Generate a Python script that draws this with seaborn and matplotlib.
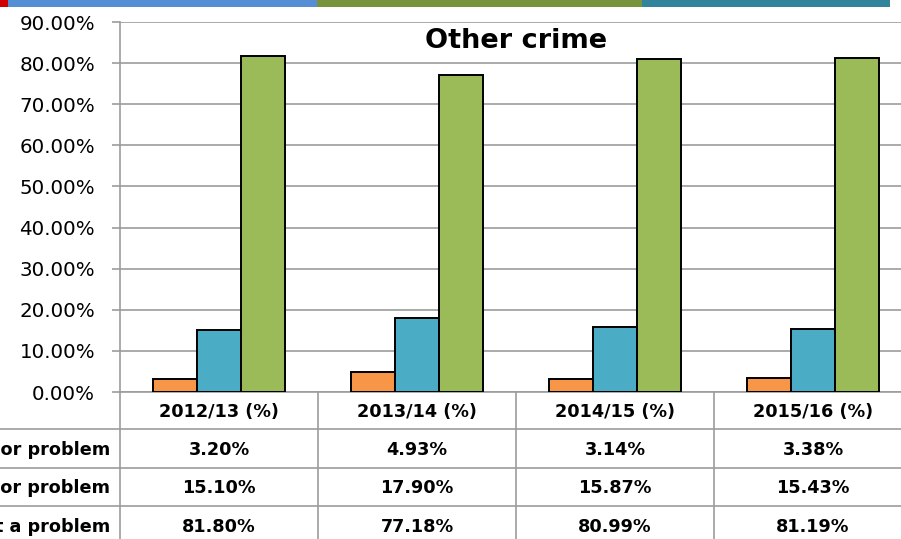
import numpy as np
import pandas as pd
import matplotlib
matplotlib.use("Agg")
import matplotlib.pyplot as plt
import matplotlib.transforms as mtransforms
from matplotlib.lines import Line2D
from matplotlib.patches import Rectangle
from matplotlib.ticker import FuncFormatter
import seaborn as sns

# ---- data -------------------------------------------------------------
years = ["2012/13 (%)", "2013/14 (%)", "2014/15 (%)", "2015/16 (%)"]
series = ["Major problem", "Minor problem", "Not a problem"]
major_problem = [3.20, 4.93, 3.14, 3.38]
minor_problem = [15.10, 17.90, 15.87, 15.43]
not_a_problem = [81.80, 77.18, 80.99, 81.19]
y_ticks = [0, 10, 20, 30, 40, 50, 60, 70, 80, 90]
title = "Other crime"

bar_colors = ["#F79646", "#4BACC6", "#9BBB59"]
grid_color = "#9C9C9C"

values = [major_problem, minor_problem, not_a_problem]
df = pd.DataFrame({
    "year": np.tile(years, len(series)),
    "series": np.repeat(series, len(years)),
    "value": np.concatenate(values),
})

# ---- figure -------------------------------------------------------------
sns.set_theme(style="white")
plt.rcParams["font.family"] = ["DejaVu Sans"]
plt.rcParams["text.color"] = "black"

W, H = 901, 539
fig = plt.figure(figsize=(W / 100, H / 100), dpi=100)

def fx(px):
    return px / W

def fy(py):
    return (H - py) / H

ax_left, ax_right, ax_top, ax_bottom = 120, 912, 22, 392
ax = fig.add_axes([fx(ax_left), fy(ax_bottom),
                   fx(ax_right - ax_left), (ax_bottom - ax_top) / H])

sns.barplot(data=df, x="year", y="value", hue="series", order=years,
            hue_order=series, palette=bar_colors, saturation=1, width=0.67,
            edgecolor="black", linewidth=1.4, legend=False, ax=ax, zorder=3)

ax.set_xlim(-0.5, len(years) - 0.5)
ax.set_ylim(0, 90)
ax.set_yticks(y_ticks)
ax.yaxis.set_major_formatter(FuncFormatter(lambda v, _: f"{v:.2f}%"))
ax.set_xticks([])
ax.set_xlabel("")
ax.set_ylabel("")
ax.yaxis.grid(True, color=grid_color, linewidth=1.2, zorder=0)
ax.set_axisbelow(True)
ax.tick_params(axis="y", direction="out", length=6, width=1.2,
               color=grid_color, pad=12, labelsize=14.3, labelcolor="black",
               left=True)
for side in ["top", "right"]:
    ax.spines[side].set_visible(False)
for side in ["left", "bottom"]:
    ax.spines[side].set_color(grid_color)
    ax.spines[side].set_linewidth(1.2)

ax.text(0.5, (ax_bottom - 48) / (ax_bottom - ax_top), title,
        transform=ax.transAxes, ha="center", va="baseline",
        fontsize=19.5, fontweight="bold", color="black")

# ---- data table below the plot --------------------------------------------
tab = mtransforms.blended_transform_factory(ax.transData, fig.transFigure)
row_lines = [429, 468, 506]
header_base = 417
row_bases = [455, 493, 532]
tfs = 12.7

for i, yr in enumerate(years):
    ax.text(i, fy(header_base), yr, transform=tab, ha="center",
            va="baseline", fontsize=tfs, fontweight="bold", color="black",
            clip_on=False)
    for r in range(len(series)):
        ax.text(i, fy(row_bases[r]), f"{values[r][i]:.2f}%", transform=tab,
                ha="center", va="baseline", fontsize=tfs,
                fontweight="bold", color="black", clip_on=False)

# row headers sit in the narrow left column, so their start runs off the edge
for r, name in enumerate(series):
    fig.text(fx(110), fy(row_bases[r]), name, ha="right", va="baseline",
             fontsize=tfs, fontweight="bold", color="black")

# table rules
for py in row_lines:
    fig.add_artist(Line2D([0, 1], [fy(py), fy(py)], color=grid_color,
                          linewidth=1.2))
fig.add_artist(Line2D([fx(ax_left), fx(ax_left)], [fy(ax_bottom), 0],
                      color=grid_color, linewidth=1.2))
for xb in np.arange(0.5, len(years) - 0.5, 1.0):
    ax.add_artist(Line2D([xb, xb], [fy(ax_bottom), 0], transform=tab,
                         color=grid_color, linewidth=1.2, clip_on=False))

# coloured strip along the top edge
strip = [(0, 8, "#D00000"), (8, 317, "#558ED5"),
         (317, 642, "#77933C"), (642, 890, "#31849B")]
for x0, x1, c in strip:
    fig.add_artist(Rectangle((fx(x0), fy(7)), fx(x1 - x0), 7 / H,
                             facecolor=c, edgecolor="none"))

fig.savefig("out.png", dpi=100)
